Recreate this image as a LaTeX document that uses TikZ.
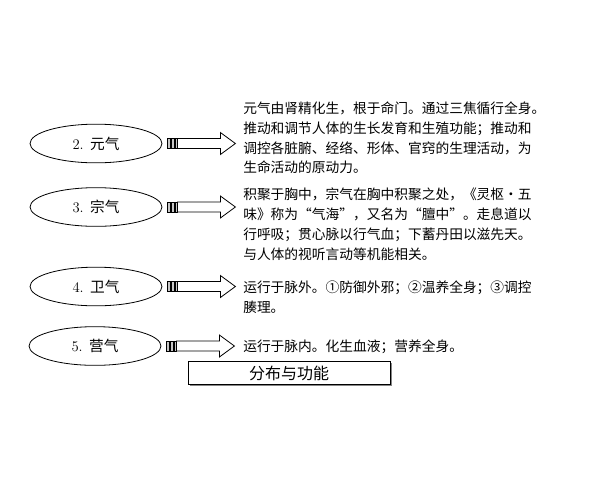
\documentclass[tikz,border=0pt]{standalone}
\usepackage{fontspec}
\newfontfamily\cjk{Noto Sans CJK SC}
\usetikzlibrary{shapes.geometric,shadows}
\tikzset{
  qibox/.style={ellipse, draw, line width=0.6pt, fill=white, minimum width=99pt, minimum height=29pt, inner sep=0pt, font=\fontsize{11}{13}\selectfont},
  desc/.style={anchor=north west, align=left, inner sep=0pt, font=\cjk\fontsize{10.3}{14.85}\selectfont},
  fatarrow/.style={draw, line width=0.6pt, fill=white},
  stripe/.style={draw, line width=0.5pt, fill=gray!45},
  titlebox/.style={draw, line width=0.6pt, fill=white, minimum width=151.5pt, minimum height=17pt, inner sep=0pt, font=\cjk\fontsize{12}{14}\selectfont,
    drop shadow={shadow xshift=1.3pt, shadow yshift=-1.3pt, fill=black!60, opacity=0.8}},
}
\begin{document}
\begin{tikzpicture}[x=0.75pt,y=-0.75pt]
\useasboundingbox (0,0) rectangle (600,480);

    % Row 2 - yuan qi
    \begin{scope}[shift={(0,143.5)}]
        \node[qibox] (qi2) at (96,0) {2. {\cjk 元气}};
        \node[desc] (desc2) at (243,-42) {元气由肾精化生，根于命门。通过三焦循行全身。\\推动和调节人体的生长发育和生殖功能；推动和\\调控各脏腑、经络、形体、官窍的生理活动，为\\生命活动的原动力。};
        % Striped arrow
        \draw[stripe] (qi2.east) ++(5,-5) rectangle ++(3,10);
        \draw[stripe] (qi2.east) ++(9,-5) rectangle ++(3,10);
        \draw[stripe] (qi2.east) ++(13,-5) rectangle ++(1.5,10);
        \draw[fatarrow] (qi2.east) ++(15,-5) -- ++(43,0) -- ++(0,-6) -- ++(15,11) -- ++(-15,11) -- ++(0,-6) -- ++(-43,0) -- cycle;
    \end{scope}

    % Row 3 - zong qi
    \begin{scope}[shift={(0,207)}]
        \node[qibox] (qi3) at (96,0) {3. {\cjk 宗气}};
        \node[desc] (desc3) at (243,-19) {积聚于胸中，宗气在胸中积聚之处，《灵枢·五\\味》称为“气海”，又名为“膻中”。走息道以\\行呼吸；贯心脉以行气血；下蓄丹田以滋先天。\\与人体的视听言动等机能相关。};
        % Striped arrow
        \draw[stripe] (qi3.east) ++(5,-5) rectangle ++(3,10);
        \draw[stripe] (qi3.east) ++(9,-5) rectangle ++(3,10);
        \draw[stripe] (qi3.east) ++(13,-5) rectangle ++(1.5,10);
        \draw[fatarrow] (qi3.east) ++(15,-5) -- ++(43,0) -- ++(0,-6) -- ++(15,11) -- ++(-15,11) -- ++(0,-6) -- ++(-43,0) -- cycle;
    \end{scope}

    % Row 4 - wei qi
    \begin{scope}[shift={(0,286.5)}]
        \node[qibox] (qi4) at (96,0) {4. {\cjk 卫气}};
        \node[desc] (desc4) at (243,-6) {运行于脉外。①防御外邪；②温养全身；③调控\\腠理。};
        % Striped arrow
        \draw[stripe] (qi4.east) ++(5,-5) rectangle ++(3,10);
        \draw[stripe] (qi4.east) ++(9,-5) rectangle ++(3,10);
        \draw[stripe] (qi4.east) ++(13,-5) rectangle ++(1.5,10);
        \draw[fatarrow] (qi4.east) ++(15,-5) -- ++(43,0) -- ++(0,-6) -- ++(15,11) -- ++(-15,11) -- ++(0,-6) -- ++(-43,0) -- cycle;
    \end{scope}

    % Row 5 - ying qi
    \begin{scope}[shift={(0,346)}]
        \node[qibox] (qi5) at (95,0) {5. {\cjk 营气}};
        \node[desc] (desc5) at (243,-6) {运行于脉内。化生血液；营养全身。};
        % Striped arrow
        \draw[stripe] (qi5.east) ++(5,-5) rectangle ++(3,10);
        \draw[stripe] (qi5.east) ++(9,-5) rectangle ++(3,10);
        \draw[stripe] (qi5.east) ++(13,-5) rectangle ++(1.5,10);
        \draw[fatarrow] (qi5.east) ++(15,-5) -- ++(43,0) -- ++(0,-6) -- ++(15,11) -- ++(-15,11) -- ++(0,-6) -- ++(-43,0) -- cycle;
    \end{scope}

    % Caption box
    \node[titlebox] (title) at (289,373) {分布与功能};
\end{tikzpicture}
\end{document}
